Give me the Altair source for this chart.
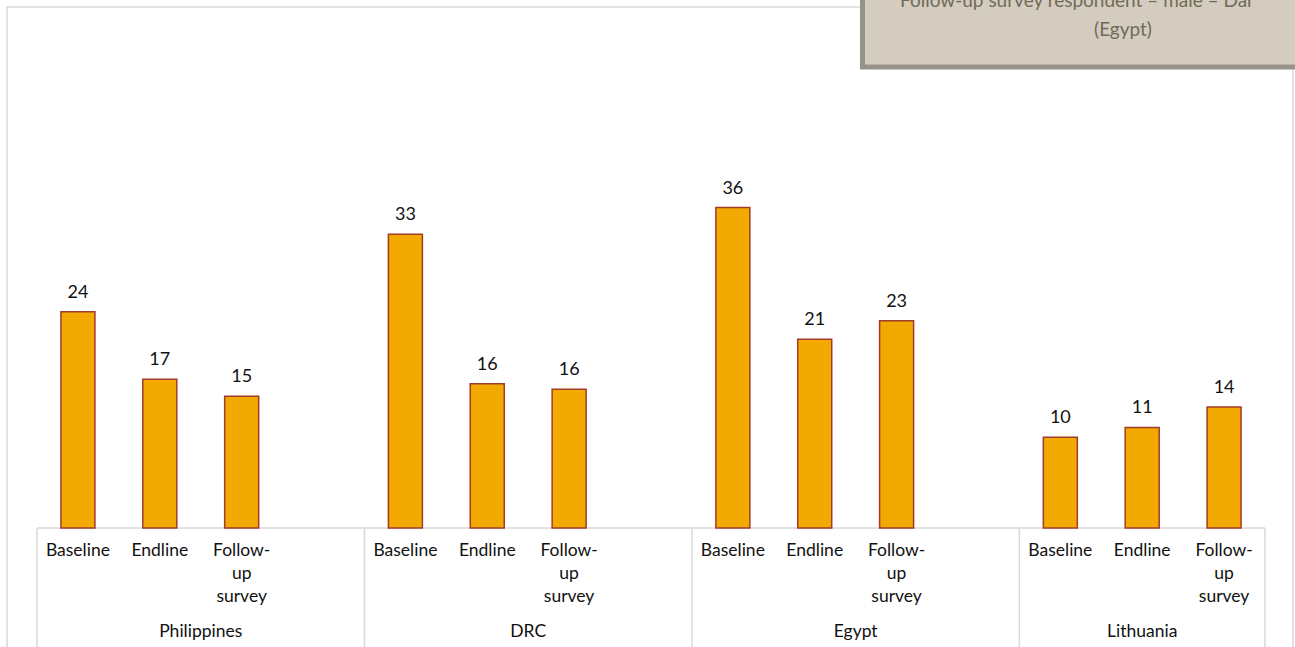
import altair as alt
import pandas as pd

countries = ["Philippines", "DRC", "Egypt", "Lithuania"]
phases = ["Baseline", "Endline", "Follow-up survey"]
phase_labels = ["Baseline", "Endline", "Follow-\nup\nsurvey"]
values = {
    "Philippines": [24.3, 16.7, 14.8],
    "DRC": [33.0, 16.2, 15.6],
    "Egypt": [36.0, 21.2, 23.3],
    "Lithuania": [10.2, 11.3, 13.6],
}
value_labels = {
    "Philippines": [24, 17, 15],
    "DRC": [33, 16, 16],
    "Egypt": [36, 21, 23],
    "Lithuania": [10, 11, 14],
}
callout_line1 = "Follow-up survey respondent \u2013 male \u2013 Dar"
callout_line2 = "(Egypt)"

SLOTS_PER_GROUP = len(phases) + 1  # one empty gap slot between groups

rows = []
for ci, c in enumerate(countries):
    for pi, p in enumerate(phases):
        slot = ci * SLOTS_PER_GROUP + pi
        rows.append({
            "country": c,
            "phase": p,
            "tick": phase_labels[pi],
            "value": values[c][pi],
            "label": str(value_labels[c][pi]),
            "pos": slot + 0.5,
        })
df = pd.DataFrame(rows)
n_slots = (len(countries) - 1) * SLOTS_PER_GROUP + len(phases)

groups = []
for ci, c in enumerate(countries):
    start = ci * SLOTS_PER_GROUP
    end = n_slots if ci == len(countries) - 1 else start + SLOTS_PER_GROUP
    groups.append({"country": c, "center": (start + end) / 2})
gdf = pd.DataFrame(groups)
seps = pd.DataFrame({"sep": [ci * SLOTS_PER_GROUP for ci in range(len(countries))] + [n_slots]})

W, H = 1228, 356
xs = alt.Scale(domain=[0, n_slots], nice=False, zero=False, padding=0)
ys = alt.Scale(domain=[0, 40], nice=False, padding=0)
FONT = "Lato"

frame = alt.Chart(pd.DataFrame({"a": [0]})).mark_rect(
    fill="transparent", stroke="#d9d9d9", strokeWidth=1.5
).encode(x=alt.value(-30), x2=alt.value(1256), y=alt.value(-165), y2=alt.value(520))

axis_line = alt.Chart(pd.DataFrame({"a": [0]})).mark_rule(
    color="#d9d9d9", strokeWidth=1.5
).encode(x=alt.value(0), x2=alt.value(W), y=alt.value(H))

sep_rules = alt.Chart(seps).mark_rule(color="#d9d9d9", strokeWidth=1.5).encode(
    x=alt.X("sep:Q", scale=xs, axis=None), y=alt.value(H), y2=alt.value(500)
)

bars = alt.Chart(df).mark_bar(
    orient="vertical", width=34, fill="#f2a900", stroke="#a33b2b", strokeWidth=1.5
).encode(
    x=alt.X("pos:Q", scale=xs, axis=None),
    y=alt.Y("value:Q", scale=ys, axis=None),
    y2=alt.datum(0),
)

val_text = alt.Chart(df).mark_text(
    font=FONT, fontSize=18, color="#111111", baseline="alphabetic", dy=-14
).encode(
    x=alt.X("pos:Q", scale=xs, axis=None),
    y=alt.Y("value:Q", scale=ys, axis=None),
    text="label:N",
)

tick_text = alt.Chart(df).mark_text(
    font=FONT, fontSize=17.5, color="#111111", baseline="alphabetic",
    lineBreak="\n", lineHeight=23
).encode(
    x=alt.X("pos:Q", scale=xs, axis=None),
    y=alt.value(H + 28),
    text="tick:N",
)

group_text = alt.Chart(gdf).mark_text(
    font=FONT, fontSize=17.5, color="#111111", baseline="alphabetic"
).encode(
    x=alt.X("center:Q", scale=xs, axis=None),
    y=alt.value(H + 109),
    text="country:N",
)

box = alt.Chart(pd.DataFrame({"a": [0]})).mark_rect(
    fill="#d3ccbf", stroke="#98938a", strokeWidth=5
).encode(x=alt.value(825.5), x2=alt.value(1300), y=alt.value(-220), y2=alt.value(-105))

box_t1 = alt.Chart(pd.DataFrame({"t": [callout_line1]})).mark_text(
    font=FONT, fontSize=19, color="#716b57", align="left", baseline="alphabetic"
).encode(x=alt.value(863), y=alt.value(-165), text="t:N")

box_t2 = alt.Chart(pd.DataFrame({"t": [callout_line2]})).mark_text(
    font=FONT, fontSize=19, color="#716b57", align="center", baseline="alphabetic"
).encode(x=alt.value(1086), y=alt.value(-136), text="t:N")

chart = alt.layer(
    frame, axis_line, sep_rules, bars, val_text, tick_text, group_text, box, box_t1, box_t2
).properties(
    width=W, height=H,
    autosize=alt.AutoSizeParams(type="none"),
    padding={"left": 37, "top": 172, "right": 30, "bottom": 119},
    background="white",
).configure_view(stroke="transparent")

chart.save("out.html", embed_options={"renderer": "svg", "actions": False})
